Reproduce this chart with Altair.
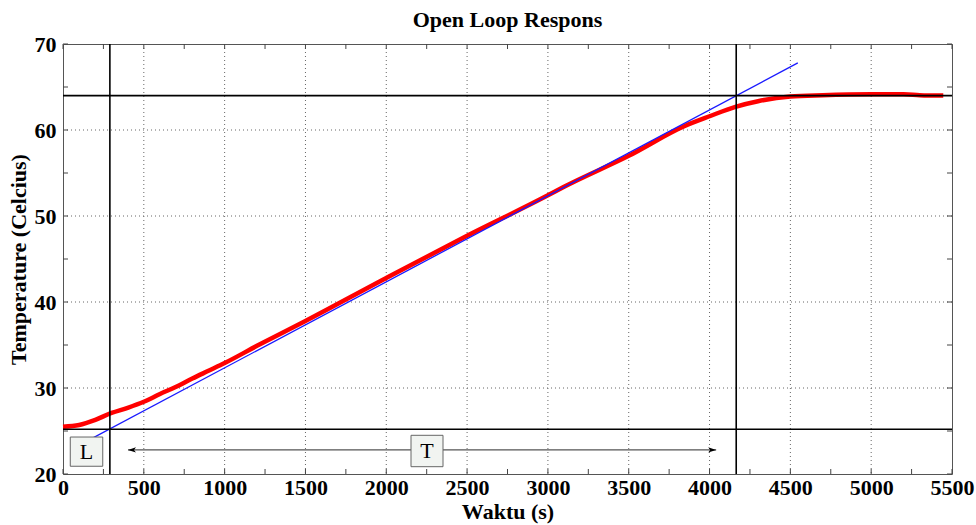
import altair as alt
import pandas as pd

# ---- data ----
resp_t = [0, 100, 200, 300, 400, 500, 600, 700, 800, 900, 1000, 1200, 1500, 2000,
          2500, 3000, 3100, 3500, 3850, 4000, 4160, 4300, 4500, 4700, 5000, 5200, 5300, 5446]
resp_temp = [25.5, 25.7, 26.3, 27.1, 27.7, 28.4, 29.3, 30.15, 31.1, 32.0, 32.9, 34.9, 37.8, 42.8,
             47.7, 52.4, 53.4, 57.0, 60.5, 61.6, 62.7, 63.35, 63.9, 64.05, 64.15, 64.15, 64.05, 64.0]

tangent_t = [75, 4546]
tangent_temp = [23.1, 67.8]

vline_t = [290, 4165]
hline_temp = [25.2, 64]

x_label_vals = list(range(0, 5501, 500))
x_tick_vals = list(range(0, 5501, 250))
y_label_vals = [20, 30, 40, 50, 60, 70]
y_tick_vals = list(range(20, 71, 5))
x_grid_vals = list(range(500, 5001, 500))
y_grid_vals = [30, 40, 50, 60]

arrow_t = [402, 4041]
arrow_temp = [22.8, 22.8]

box_text = ["L", "T"]
box_t = [145, 2252]
box_temp = [22.6, 22.7]
box_t0 = [45, 2153]
box_t1 = [246, 2351]
box_temp0 = [20.9, 20.85]
box_temp1 = [24.3, 24.5]

W, H = 889, 430
FONT = "Liberation Serif"
FS = 22

xs = alt.Scale(domain=[0, 5500], nice=False, zero=False)
ys = alt.Scale(domain=[20, 70], nice=False, zero=False)

x_axis = alt.Axis(values=x_label_vals, format="d", title="Waktu (s)", grid=False, domain=False,
                  ticks=False, labelFont=FONT, labelFontSize=FS, labelFontWeight="bold",
                  labelColor="black", labelPadding=3, labelOverlap=False, labelFlush=False,
                  labelBound=False, titleFont=FONT, titleFontSize=FS, titleFontWeight="bold",
                  titleColor="black", titlePadding=3)
y_axis = alt.Axis(values=y_label_vals, format="d", title="Temperature (Celcius)", grid=False,
                  domain=False, ticks=False, labelFont=FONT, labelFontSize=FS,
                  labelFontWeight="bold", labelColor="black", labelPadding=7, labelOverlap=False,
                  labelFlush=False, labelBound=False, titleFont=FONT, titleFontSize=FS,
                  titleFontWeight="bold", titleColor="black", titlePadding=4)


def X(field="t", **kw):
    return alt.X(f"{field}:Q", scale=xs, axis=x_axis, **kw)


def Y(field="temp", **kw):
    return alt.Y(f"{field}:Q", scale=ys, axis=y_axis, **kw)


resp_df = pd.DataFrame({"t": resp_t, "temp": resp_temp})
tan_df = pd.DataFrame({"t": tangent_t, "temp": tangent_temp})
vline_df = pd.DataFrame({"t": vline_t})
hline_df = pd.DataFrame({"temp": hline_temp})
xg_df = pd.DataFrame({"t": x_grid_vals})
yg_df = pd.DataFrame({"temp": y_grid_vals})
xt_df = pd.DataFrame({"t": x_tick_vals})
yt_df = pd.DataFrame({"temp": y_tick_vals})
arrow_df = pd.DataFrame({"t": [arrow_t[0]], "t2": [arrow_t[1]], "temp": [arrow_temp[0]]})
arrow_l_df = pd.DataFrame({"t": [arrow_t[0]], "temp": [arrow_temp[0]]})
arrow_r_df = pd.DataFrame({"t": [arrow_t[1]], "temp": [arrow_temp[1]]})
box_df = pd.DataFrame({"label": box_text, "t": box_t, "temp": box_temp, "t0": box_t0,
                       "t1": box_t1, "y0": box_temp0, "y1": box_temp1})

grid_color = "#666666"
xgrid = alt.Chart(xg_df).mark_rule(color=grid_color, strokeDash=[1, 3], strokeWidth=1).encode(x=X())
ygrid = alt.Chart(yg_df).mark_rule(color=grid_color, strokeDash=[1, 3], strokeWidth=1).encode(y=Y())

tick_color = "#444444"
tb = alt.Chart(xt_df).mark_rule(color=tick_color).encode(x=X(), y=alt.value(H), y2=alt.value(H - 5))
tt = alt.Chart(xt_df).mark_rule(color=tick_color).encode(x=X(), y=alt.value(0), y2=alt.value(5))
tl = alt.Chart(yt_df).mark_rule(color=tick_color).encode(y=Y(), x=alt.value(0), x2=alt.value(5))
tr = alt.Chart(yt_df).mark_rule(color=tick_color).encode(y=Y(), x=alt.value(W), x2=alt.value(W - 5))

red = alt.Chart(resp_df).mark_line(color="#ff0000", strokeWidth=4.5, interpolate="monotone").encode(
    x=X(), y=Y())
blue = alt.Chart(tan_df).mark_line(color="#1a1aff", strokeWidth=1.3).encode(x=X(), y=Y())

vl = alt.Chart(vline_df).mark_rule(color="black", strokeWidth=1.6).encode(x=X())
hl = alt.Chart(hline_df).mark_rule(color="black", strokeWidth=1.6).encode(y=Y())

arrow_line = alt.Chart(arrow_df).mark_rule(color="#555555", strokeWidth=1.2).encode(
    x=X(), x2="t2:Q", y=Y())
head_l = alt.Chart(arrow_l_df).mark_point(
    shape="M0,0L2,-0.65L1.5,0L2,0.65Z", filled=True, color="black", size=64, opacity=1).encode(
    x=X(), y=Y())
head_r = alt.Chart(arrow_r_df).mark_point(
    shape="M0,0L-2,-0.65L-1.5,0L-2,0.65Z", filled=True, color="black", size=64, opacity=1).encode(
    x=X(), y=Y())

boxes = alt.Chart(box_df).mark_rect(fill="#f1f4f1", stroke="#666666", strokeWidth=1).encode(
    x=X("t0"), x2="t1:Q", y=Y("y0"), y2="y1:Q")
box_labels = alt.Chart(box_df).mark_text(font=FONT, fontSize=22, color="black").encode(
    x=X(), y=Y(), text="label:N")

chart = alt.layer(
    xgrid, ygrid, tb, tt, tl, tr, red, blue, vl, hl, arrow_line, head_l, head_r, boxes, box_labels
).properties(
    width=W, height=H,
    title=alt.TitleParams("Open Loop Respons", font=FONT, fontSize=22, fontWeight="bold",
                          color="black", anchor="middle", offset=1),
    autosize=alt.AutoSizeParams(type="none"),
    padding={"left": 63, "top": 44, "right": 976 - 63 - W, "bottom": 525 - 44 - H},
    background="white",
).configure_view(stroke="#555555", strokeWidth=1)

chart.save("out.html", embed_options={"renderer": "svg", "actions": False})
